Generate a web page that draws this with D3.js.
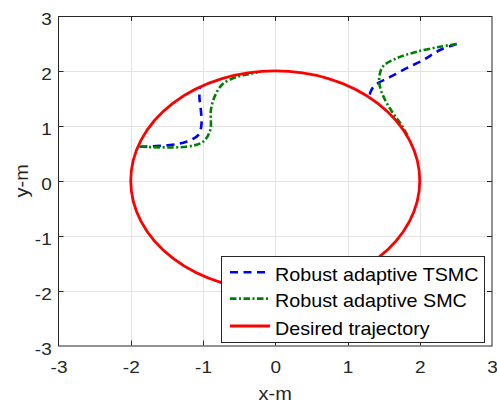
<!DOCTYPE html>
<html>
<head>
<meta charset="utf-8">
<script src="https://cdn.jsdelivr.net/npm/d3@7"></script>
<style>
  body { margin: 0; background: #fff; }
  text { font-family: "Liberation Sans", Arial, sans-serif; fill: #262626; }
</style>
</head>
<body>
<div id="chart"></div>
<script>
// Axis ticks
const xTicks = [-3, -2, -1, 0, 1, 2, 3];
const yTicks = [-3, -2, -1, 0, 1, 2, 3];

// Desired trajectory: circle centred at origin
const desiredCenter = [0, 0];
const desiredRadius = 2;

// Visible parts of the tracked trajectories (rest lies under the red circle)
const tsmcLeft = [[-1.88, 0.62], [-1.46, 0.65], [-1.23, 0.71], [-1.06, 0.84], [-1.02, 1.05],
                  [-1.03, 1.29], [-1.05, 1.53], [-1.04, 1.72]];
const tsmcRight = [[2.51, 2.49], [2.28, 2.38], [2.05, 2.2], [1.82, 2.05], [1.59, 1.89],
                   [1.44, 1.79], [1.36, 1.71], [1.32, 1.62], [1.3, 1.52]];
const smcLeft = [[-1.87, 0.62], [-1.23, 0.62], [-1.0, 0.71], [-0.9, 0.92], [-0.89, 1.29],
                 [-0.83, 1.56], [-0.72, 1.77], [-0.53, 1.89], [-0.37, 1.94], [-0.25, 1.97]];
const smcRight = [[2.51, 2.49], [2.28, 2.44], [1.96, 2.35], [1.68, 2.23], [1.49, 2.08],
                  [1.44, 1.89], [1.45, 1.71], [1.52, 1.47], [1.63, 1.23], [1.75, 1.01], [1.84, 0.8]];

const legendLabels = ["Robust adaptive TSMC", "Robust adaptive SMC", "Desired trajectory"];

const W = 497, H = 404;
const plot = { left: 58.5, right: 492, top: 16, bottom: 345.5 };
const tickStretch = 1.13;   // text in the reference is a bit wide
const labelStretch = 1.11;
const legendStretch = 1.115;

const svg = d3.select("#chart").append("svg")
    .attr("width", W)
    .attr("height", H);

const x = d3.scaleLinear().domain([-3, 3]).range([plot.left, plot.right]);
const y = d3.scaleLinear().domain([-3, 3]).range([plot.bottom, plot.top]);

// Grid
svg.append("g").selectAll("line.gx")
    .data(xTicks.slice(1, -1))
    .enter().append("line")
    .attr("x1", d => Math.round(x(d)) + 0.5).attr("x2", d => Math.round(x(d)) + 0.5)
    .attr("y1", plot.top).attr("y2", plot.bottom)
    .attr("stroke", "#e3e3e3");
svg.append("g").selectAll("line.gy")
    .data(yTicks.slice(1, -1))
    .enter().append("line")
    .attr("y1", d => Math.round(y(d)) + 0.5).attr("y2", d => Math.round(y(d)) + 0.5)
    .attr("x1", plot.left).attr("x2", plot.right)
    .attr("stroke", "#e3e3e3");

// Lines
const line = d3.line()
    .x(d => x(d[0]))
    .y(d => y(d[1]))
    .curve(d3.curveCatmullRom);

[tsmcLeft, tsmcRight].forEach(seg => {
    svg.append("path")
        .attr("d", line(seg))
        .attr("fill", "none")
        .attr("stroke", "#0000ff")
        .attr("stroke-width", 2.6)
        .attr("stroke-dasharray", "8,5.5");
});
[smcLeft, smcRight].forEach(seg => {
    svg.append("path")
        .attr("d", line(seg))
        .attr("fill", "none")
        .attr("stroke", "#008000")
        .attr("stroke-width", 2.6)
        .attr("stroke-dasharray", "6.5,2.5,2,2.5");
});
svg.append("ellipse")
    .attr("cx", x(desiredCenter[0]))
    .attr("cy", y(desiredCenter[1]))
    .attr("rx", x(desiredRadius) - x(0))
    .attr("ry", y(0) - y(desiredRadius))
    .attr("fill", "none")
    .attr("stroke", "#ff0000")
    .attr("stroke-width", 2.8);

// Axes (labels from d3 axes, ticks drawn inward)
const fmt = d => String(d);
const xAxis = svg.append("g")
    .attr("transform", `translate(0,${plot.bottom})`)
    .call(d3.axisBottom(x).tickValues(xTicks).tickFormat(fmt).tickSize(0));
xAxis.select(".domain").remove();
xAxis.selectAll("text")
    .attr("y", 0).attr("dy", null)
    .attr("transform", `translate(0,27.8) scale(${tickStretch},1)`)
    .style("font-size", "16.8px")
    .attr("fill", "#262626");

const yAxis = svg.append("g")
    .attr("transform", `translate(${plot.left},0)`)
    .call(d3.axisLeft(y).tickValues(yTicks).tickFormat(fmt).tickSize(0));
yAxis.select(".domain").remove();
yAxis.selectAll("text")
    .attr("x", 0).attr("dy", null)
    .attr("transform", `translate(-6.8,8.9) scale(${tickStretch},1)`)
    .style("font-size", "16.8px")
    .attr("fill", "#262626");

// Inward tick marks on all four sides
const tk = 5;
xTicks.slice(1, -1).forEach(t => {
    const px = Math.round(x(t)) + 0.5;
    svg.append("line").attr("x1", px).attr("x2", px).attr("y1", plot.bottom).attr("y2", plot.bottom - tk).attr("stroke", "#262626");
    svg.append("line").attr("x1", px).attr("x2", px).attr("y1", plot.top).attr("y2", plot.top + tk).attr("stroke", "#262626");
});
yTicks.slice(1, -1).forEach(t => {
    const py = Math.round(y(t)) + 0.5;
    svg.append("line").attr("y1", py).attr("y2", py).attr("x1", plot.left).attr("x2", plot.left + tk).attr("stroke", "#262626");
    svg.append("line").attr("y1", py).attr("y2", py).attr("x1", plot.right).attr("x2", plot.right - tk).attr("stroke", "#262626");
});

// Box
svg.append("rect")
    .attr("x", plot.left).attr("y", plot.top + 0.5)
    .attr("width", plot.right - plot.left).attr("height", plot.bottom - plot.top)
    .attr("fill", "none")
    .attr("stroke", "#262626");

// Axis labels
svg.append("text")
    .attr("transform", `translate(${x(0)},400) scale(${labelStretch},1)`)
    .attr("text-anchor", "middle")
    .style("font-size", "18px")
    .text("x-m");
svg.append("text")
    .attr("transform", `translate(27.7,${y(0)}) rotate(-90) scale(${labelStretch},1)`)
    .attr("text-anchor", "middle")
    .style("font-size", "18px")
    .text("y-m");

// Legend
const legend = svg.append("g");
legend.append("rect")
    .attr("x", 221.5).attr("y", 256.5)
    .attr("width", 263).attr("height", 86)
    .attr("fill", "#fff")
    .attr("stroke", "#262626");

const legendStyles = [
    { color: "#0000ff", dash: "8,5.5" },
    { color: "#008000", dash: "6.5,2.5,2,2.5" },
    { color: "#ff0000", dash: null }
];
const rowY = [272.3, 298.6, 326];
legendLabels.forEach((lab, i) => {
    legend.append("line")
        .attr("x1", 230).attr("x2", 270)
        .attr("y1", rowY[i]).attr("y2", rowY[i])
        .attr("stroke", legendStyles[i].color)
        .attr("stroke-width", i === 2 ? 2.8 : 2.6)
        .attr("stroke-dasharray", legendStyles[i].dash);
    legend.append("text")
        .attr("transform", `translate(275,${rowY[i] + 8.6}) scale(${legendStretch},1)`)
        .style("font-size", "17.7px")
        .style("fill", "#000")
        .text(lab);
});
</script>
</body>
</html>
